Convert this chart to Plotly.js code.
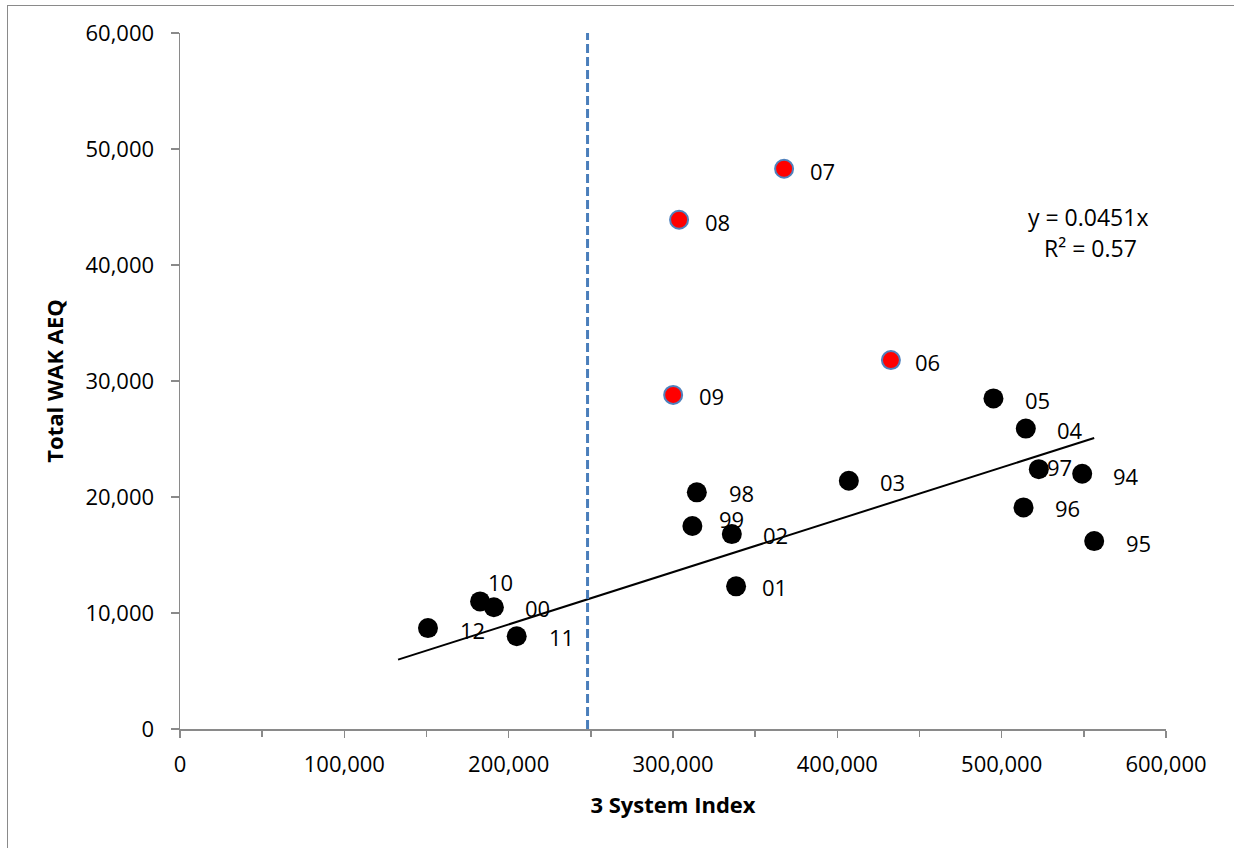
<!DOCTYPE html>
<html>
<head>
<meta charset="utf-8">
<script src="https://cdn.plot.ly/plotly-3.0.1.min.js"></script>
<style>
  html, body { margin: 0; padding: 0; background: #ffffff; overflow: hidden; }
  #chart { position: absolute; left: 0; top: 0; width: 1234px; height: 848px; }
  #frame { position: absolute; left: 7px; top: 5px; width: 1400px; height: 1000px;
           border-left: 1px solid #8a8a8a; border-top: 1px solid #8a8a8a; pointer-events: none; }
</style>
</head>
<body>
<div id="chart"></div>
<div id="frame"></div>
<script>
// ---- data ----
const years   = ['94','95','96','97','98','99','00','01','02','03','04','05','06','07','08','09','10','11','12'];
const index3  = [549000, 556300, 513300, 522600, 314500, 311800, 191000, 338400, 335800, 407000, 514700, 495000, 432600, 367600, 303700, 300100, 182600, 204900, 150900];
const wakAEQ  = [22000, 16200, 19100, 22400, 20400, 17500, 10500, 12300, 16800, 21400, 25900, 28500, 31800, 48300, 43900, 28800, 11000, 8000, 8700];
const highlightedYears = ['06','07','08','09'];
const trendSlope = 0.0451;
const trendR2 = 0.57;
const trendXRange = [132700, 556300];
const thresholdX = 248000;
const xTickVals = [0, 100000, 200000, 300000, 400000, 500000, 600000];
const yTickVals = [0, 10000, 20000, 30000, 40000, 50000, 60000];

// ---- label placement (pixel offsets from each point; style only) ----
const labelShift = {
  '94':[44,-2], '95':[44,-2], '96':[44,-1], '97':[21,2], '98':[45,-1], '99':[39,7],
  '00':[44,-1], '01':[38,-1], '02':[44,-1], '03':[44,-1], '04':[44,-1], '05':[44,-2],
  '06':[37,-2], '07':[38,-2], '08':[38,-2], '09':[38,-1], '10':[20,19], '11':[45,-1], '12':[45,-2]
};

const FONT = 'Open Sans, Noto Sans, sans-serif';
const fmt = v => v.toLocaleString('en-US');

const blackX = [], blackY = [], redX = [], redY = [];
years.forEach((yr, i) => {
  if (highlightedYears.includes(yr)) { redX.push(index3[i]); redY.push(wakAEQ[i]); }
  else { blackX.push(index3[i]); blackY.push(wakAEQ[i]); }
});

const traces = [
  {
    x: trendXRange, y: trendXRange.map(v => trendSlope * v),
    mode: 'lines', type: 'scatter', line: {color: '#000000', width: 2},
    hoverinfo: 'skip', showlegend: false
  },
  {
    x: blackX, y: blackY, mode: 'markers', type: 'scatter',
    marker: {color: '#000000', size: 20, line: {width: 0}}, showlegend: false
  },
  {
    x: redX, y: redY, mode: 'markers', type: 'scatter',
    marker: {color: '#ff0000', size: 18, line: {color: '#4f81bd', width: 2}}, showlegend: false
  }
];

const annotations = years.map((yr, i) => ({
  x: index3[i], y: wakAEQ[i], xref: 'x', yref: 'y',
  text: yr, showarrow: false,
  xshift: labelShift[yr][0], yshift: labelShift[yr][1],
  xanchor: 'center', yanchor: 'middle',
  font: {family: FONT, size: 22, color: '#000000'}
}));
annotations.push({
  xref: 'paper', yref: 'paper', x: 0.921, y: 0.7356, xanchor: 'center', yanchor: 'middle',
  text: 'y = ' + trendSlope + 'x', showarrow: false,
  font: {family: FONT, size: 23, color: '#000000'}
});
annotations.push({
  xref: 'paper', yref: 'paper', x: 0.923, y: 0.691, xanchor: 'center', yanchor: 'middle',
  text: 'R² = ' + trendR2, showarrow: false,
  font: {family: FONT, size: 23, color: '#000000'}
});

const layout = {
  width: 1234, height: 848,
  margin: {l: 180, r: 68, t: 33, b: 119, pad: 0},
  paper_bgcolor: '#ffffff', plot_bgcolor: '#ffffff',
  font: {family: FONT, size: 22, color: '#000000'},
  showlegend: false,
  xaxis: {
    range: [0, 600000], tickvals: xTickVals, ticktext: xTickVals.map(fmt),
    showgrid: false, zeroline: false,
    showline: true, linecolor: '#8a8a8a', linewidth: 1.5,
    ticks: 'outside', ticklen: 7, tickwidth: 1.5, tickcolor: '#8a8a8a',
    ticklabelstandoff: 8,
    minor: {dtick: 50000, ticks: 'outside', ticklen: 6, tickwidth: 1.5, tickcolor: '#8a8a8a', showgrid: false},
    tickfont: {family: FONT, size: 22, color: '#000000'},
    title: {text: '3 System Index', font: {family: FONT, size: 22, color: '#000000', weight: 'bold'}, standoff: 20}
  },
  yaxis: {
    range: [0, 60000], tickvals: yTickVals, ticktext: yTickVals.map(fmt),
    showgrid: false, zeroline: false,
    showline: true, linecolor: '#8a8a8a', linewidth: 1.5,
    ticks: 'outside', ticklen: 8, tickwidth: 1.5, tickcolor: '#8a8a8a',
    ticklabelstandoff: 12,
    tickfont: {family: FONT, size: 22, color: '#000000'},
    title: {text: 'Total WAK AEQ', font: {family: FONT, size: 22, color: '#000000', weight: 'bold'}, standoff: 16}
  },
  shapes: [{
    type: 'line', xref: 'x', yref: 'paper', x0: thresholdX, x1: thresholdX, y0: 0, y1: 1,
    line: {color: '#4a7ebb', width: 3, dash: '9px,4px'}
  }],
  annotations: annotations
};

Plotly.newPlot('chart', traces, layout, {displayModeBar: false, staticPlot: true});
</script>
</body>
</html>
